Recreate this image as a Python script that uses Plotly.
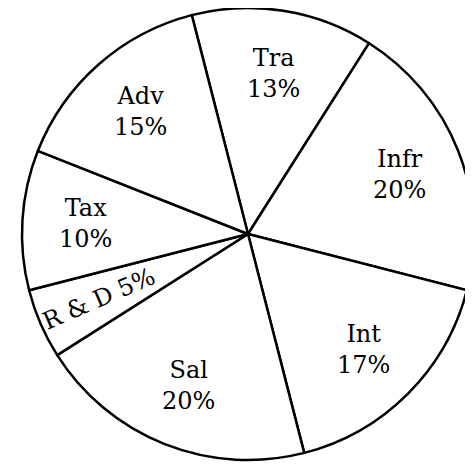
import math
import plotly.graph_objects as go

W, H = 473, 472

labels = ['Tra', 'Infr', 'Int', 'Sal', 'R & D', 'Tax', 'Adv']
values = [13, 20, 17, 20, 5, 10, 15]
start_angle = -14.4  # degrees clockwise from 12 o'clock where 'Tra' begins

dom_x = [0.0296, 0.9852]
dom_y = [0.0424, 1.0]

fig = go.Figure()
fig.add_trace(go.Pie(labels=labels,
                     values=values,
                     sort=False,
                     direction='clockwise',
                     rotation=start_angle,
                     textinfo='none',
                     hoverinfo='label+percent',
                     marker=dict(colors=['white'] * len(values),
                                 line=dict(color='black', width=2.5)),
                     domain=dict(x=dom_x, y=dom_y),
                     showlegend=False))

# label positions follow the slice mid-angles
cx = (dom_x[0] + dom_x[1]) / 2 * W
cy = (1 - (dom_y[0] + dom_y[1]) / 2) * H
R = min((dom_x[1] - dom_x[0]) * W, (dom_y[1] - dom_y[0]) * H) / 2
total = sum(values)

annotations = []
acc = 0
for lab, v in zip(labels, values):
    mid = start_angle + (acc + v / 2) / total * 360
    acc += v
    a = math.radians(mid)
    r = 0.72 * R
    px = cx + r * math.sin(a)
    py = cy - r * math.cos(a)
    pct = round(v / total * 100)
    if v / total < 0.07:
        # thin slice: text runs along the radius
        text = f'{lab} {pct}%'
        angle = mid - 270
    else:
        text = f'{lab}<br>{pct}%'
        angle = 0
    annotations.append(dict(text=text, x=px / W, y=1 - py / H,
                            xref='paper', yref='paper',
                            xanchor='center', yanchor='middle',
                            showarrow=False, textangle=angle,
                            font=dict(family='DejaVu Serif', size=24, color='black')))

fig.update_layout(width=W, height=H,
                  margin=dict(l=0, r=0, t=0, b=0),
                  paper_bgcolor='white',
                  plot_bgcolor='white',
                  annotations=annotations)

fig.write_html("out.html")
